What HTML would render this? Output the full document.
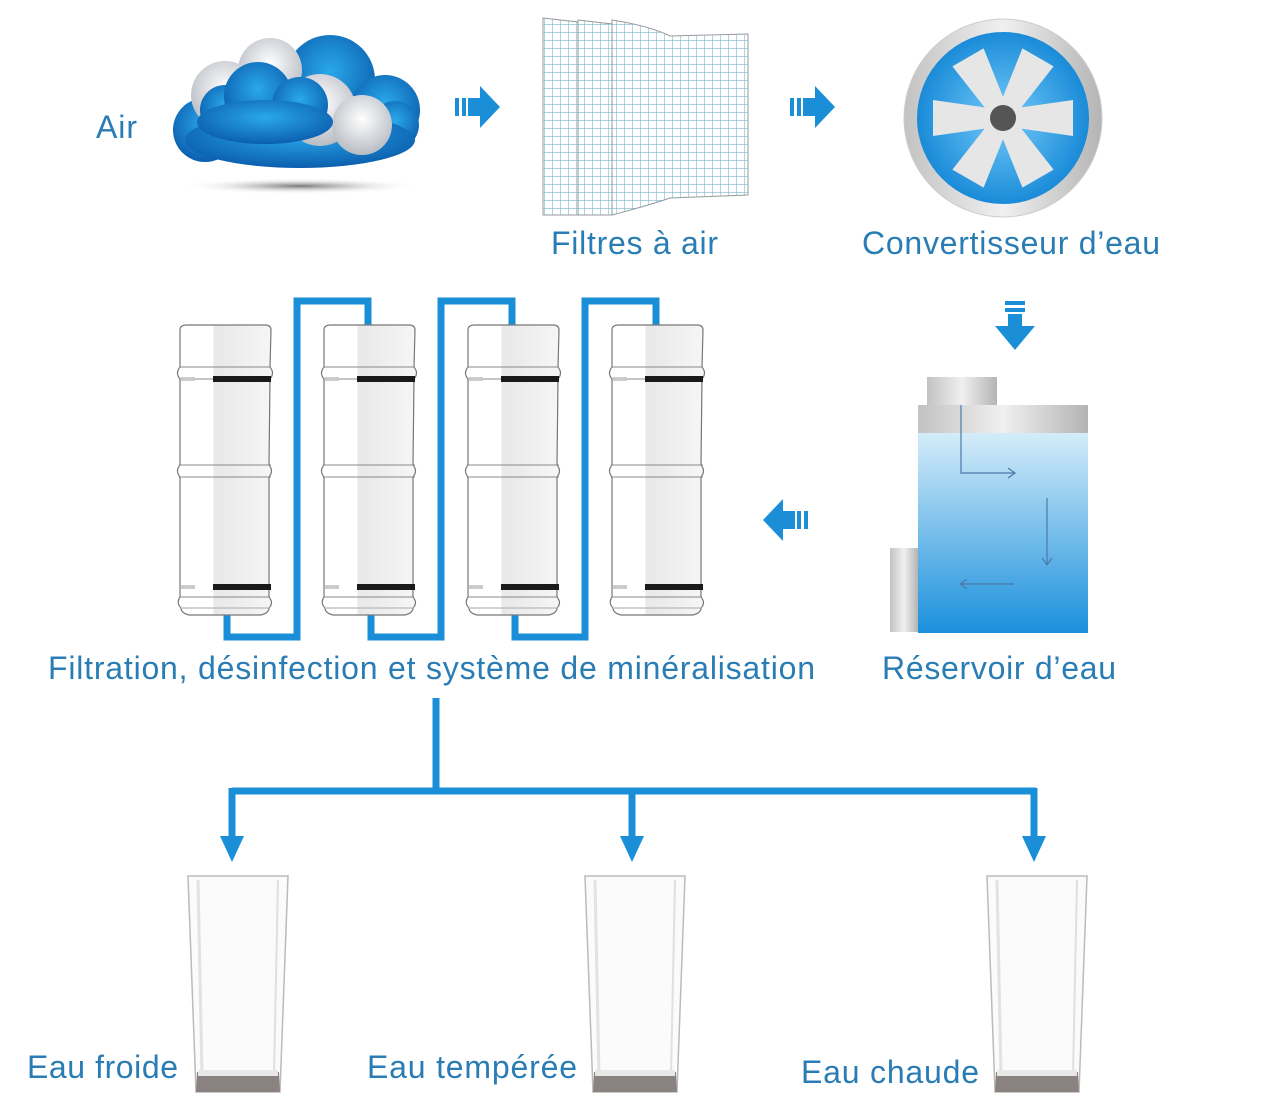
<!DOCTYPE html>
<html><head><meta charset="utf-8"><style>
html,body{margin:0;padding:0;background:#fff;}
svg{display:block}
text{font-family:"Liberation Sans",sans-serif;fill:#2a7db4;font-size:32px}
</style></head><body>
<svg width="1286" height="1112" viewBox="0 0 1286 1112" xmlns="http://www.w3.org/2000/svg">
<defs>
<pattern id="grid" width="8" height="8" patternUnits="userSpaceOnUse">
<path d="M0 0H8M0 0V8" stroke="#7ab6cc" stroke-width="1.2" fill="none"/>
</pattern>
<radialGradient id="cb" cx="50%" cy="40%" r="60%"><stop offset="0" stop-color="#2aa8ea"/><stop offset="1" stop-color="#0b5fae"/></radialGradient>
<radialGradient id="cw" cx="50%" cy="40%" r="60%"><stop offset="0" stop-color="#ffffff"/><stop offset="1" stop-color="#b8bcc4"/></radialGradient>
<radialGradient id="sh" cx="50%" cy="50%" r="50%"><stop offset="0" stop-color="#777"/><stop offset="1" stop-color="#fff" stop-opacity="0"/></radialGradient>
<linearGradient id="water" x1="0" y1="0" x2="0" y2="1"><stop offset="0" stop-color="#d4ecf9"/><stop offset="1" stop-color="#1a90dc"/></linearGradient>
<linearGradient id="metal" x1="0" y1="0" x2="1" y2="0"><stop offset="0" stop-color="#c2c2c2"/><stop offset="0.5" stop-color="#f0f0f0"/><stop offset="1" stop-color="#b4b4b4"/></linearGradient>
<radialGradient id="fanbg" cx="50%" cy="50%" r="50%"><stop offset="0.3" stop-color="#5ab8f0"/><stop offset="1" stop-color="#1a8bd8"/></radialGradient>
<linearGradient id="cart" x1="0" y1="0" x2="1" y2="0"><stop offset="0" stop-color="#fff"/><stop offset="0.38" stop-color="#fff"/><stop offset="0.38" stop-color="#e8e8e8"/><stop offset="1" stop-color="#f6f6f6"/></linearGradient>
<g id="arrR"><rect x="0" y="-9" width="4" height="18" fill="#1a8fd8"/><rect x="7" y="-9" width="4" height="18" fill="#1a8fd8"/><rect x="13" y="-9" width="12" height="18" fill="#1a8fd8"/><polygon points="25,-21 45,0 25,21" fill="#1a8fd8"/></g>
<g id="cartridge">
<path d="M3 5 Q3 0 10 0 H88 Q94 0 94 5 L93 42 Q98 48 93 54 L92 140 Q97 146 92 152 L92 272 Q97 278 92 283 Q92 288 84 290 H12 Q4 288 4 283 Q-1 278 3 272 L3 152 Q-2 146 3 140 L3 54 Q-2 48 3 42 Z" fill="url(#cart)" stroke="#777" stroke-width="1.2"/>
<line x1="3" y1="42" x2="93" y2="42" stroke="#888"/><line x1="3" y1="54" x2="93" y2="54" stroke="#888"/>
<line x1="2" y1="140" x2="94" y2="140" stroke="#888"/><line x1="2" y1="152" x2="94" y2="152" stroke="#888"/>
<line x1="3" y1="272" x2="93" y2="272" stroke="#888"/><line x1="3" y1="283" x2="93" y2="283" stroke="#aaa"/>
<rect x="36" y="51" width="58" height="6" fill="#1a1a1a"/><rect x="36" y="259" width="58" height="6" fill="#1a1a1a"/>
<rect x="4" y="52" width="14" height="4" fill="#ccc"/><rect x="4" y="260" width="14" height="4" fill="#ccc"/>
</g>
<g id="glass">
<path d="M0 0 H100 L92 216 H8 Z" fill="#fbfbfb" stroke="#bbb" stroke-width="1.5"/>
<line x1="10" y1="4" x2="14" y2="200" stroke="#e2e2e2" stroke-width="3"/>
<line x1="90" y1="4" x2="86" y2="200" stroke="#e0e0e0" stroke-width="2"/>
<path d="M9 196 H91 L92 216 H8 Z" fill="#8a8280"/>
<path d="M10 194 H90 L90 200 H10 Z" fill="#e8e8e8"/>
</g>
</defs>

<!-- Cloud -->
<ellipse cx="300" cy="186" rx="120" ry="8" fill="url(#sh)"/>
<g>
<circle cx="205" cy="130" r="32" fill="url(#cb)"/>
<circle cx="330" cy="80" r="45" fill="url(#cb)"/>
<circle cx="385" cy="110" r="35" fill="url(#cb)"/>
<circle cx="395" cy="125" r="24" fill="url(#cb)"/>
<ellipse cx="300" cy="140" rx="115" ry="28" fill="url(#cb)"/>
<circle cx="270" cy="70" r="32" fill="url(#cw)"/>
<circle cx="225" cy="95" r="34" fill="url(#cw)"/>
<circle cx="320" cy="110" r="36" fill="url(#cw)"/>
<circle cx="362" cy="125" r="30" fill="url(#cw)"/>
<circle cx="225" cy="110" r="25" fill="url(#cb)"/>
<circle cx="258" cy="96" r="34" fill="url(#cb)"/>
<circle cx="300" cy="105" r="28" fill="url(#cb)"/>
<ellipse cx="265" cy="122" rx="68" ry="22" fill="url(#cb)"/>
</g>
<text x="96" y="138" textLength="41">Air</text>
<use href="#arrR" x="455" y="107"/>

<!-- Filters -->
<path d="M543 18 L578 22 L578 215 L543 215 Z" fill="#fff" stroke="#999"/>
<path d="M543 18 L578 22 L578 215 L543 215 Z" fill="url(#grid)"/>
<path d="M578 20 L612 24 L612 215 L578 215 Z" fill="#fff" stroke="#999"/>
<path d="M578 20 L612 24 L612 215 L578 215 Z" fill="url(#grid)"/>
<path d="M612 20 Q650 26 670 36 L748 34 L748 195 L670 198 Q650 205 612 215 Z" fill="#fff" stroke="#999"/>
<path d="M612 20 Q650 26 670 36 L748 34 L748 195 L670 198 Q650 205 612 215 Z" fill="url(#grid)"/>
<text x="551" y="254" textLength="167">Filtres à air</text>
<use href="#arrR" x="790" y="107"/>

<!-- Fan -->
<circle cx="1003" cy="118" r="99" fill="url(#metal)" stroke="#ccc"/>
<circle cx="1003" cy="118" r="86" fill="url(#fanbg)"/>
<g fill="#e6e6e6">
<polygon points="1003,110 933,100 933,136 1003,126"/>
<polygon points="1003,110 1073,100 1073,136 1003,126"/>
<polygon points="1003,110 1073,100 1073,136 1003,126" transform="rotate(60 1003 118)"/>
<polygon points="1003,110 1073,100 1073,136 1003,126" transform="rotate(120 1003 118)"/>
<polygon points="1003,110 1073,100 1073,136 1003,126" transform="rotate(-60 1003 118)"/>
<polygon points="1003,110 1073,100 1073,136 1003,126" transform="rotate(-120 1003 118)"/>
</g>
<circle cx="1003" cy="118" r="13" fill="#555"/>
<text x="862" y="254" textLength="298">Convertisseur d’eau</text>

<!-- down arrow -->
<rect x="1005" y="301" width="20" height="4" fill="#1a8fd8"/>
<rect x="1005" y="308" width="20" height="4" fill="#1a8fd8"/>
<rect x="1008" y="314" width="14" height="12" fill="#1a8fd8"/>
<polygon points="995,326 1035,326 1015,350" fill="#1a8fd8"/>

<!-- Reservoir -->
<rect x="927" y="377" width="70" height="28" fill="url(#metal)"/>
<rect x="918" y="405" width="170" height="28" fill="url(#metal)"/>
<rect x="918" y="433" width="170" height="200" fill="url(#water)"/>
<rect x="890" y="548" width="28" height="84" fill="url(#metal)"/>
<g stroke="#4a7aa8" stroke-width="1.2" fill="none">
<path d="M961 405 V473 H1015 M1008 468 L1015 473 L1008 478"/>
<path d="M1047 498 V565 M1042 558 L1047 565 L1052 558"/>
<path d="M1014 584 H960 M967 579 L960 584 L967 589"/>
</g>
<text x="882" y="679" textLength="234">Réservoir d’eau</text>

<!-- left arrow -->
<use href="#arrR" transform="translate(808 520) scale(-1 1)"/>

<!-- pipes -->
<g stroke="#1a8fd8" stroke-width="7" fill="none">
<path d="M227 612 V637 H297 V301 H368 V328"/>
<path d="M371 612 V637 H441 V301 H512 V328"/>
<path d="M515 612 V637 H585 V301 H656 V328"/>
</g>
<use href="#cartridge" x="177" y="325"/>
<use href="#cartridge" x="321" y="325"/>
<use href="#cartridge" x="465" y="325"/>
<use href="#cartridge" x="609" y="325"/>
<text x="48" y="679" textLength="767">Filtration, désinfection et système de minéralisation</text>

<!-- branch -->
<g stroke="#1a8fd8" stroke-width="7" fill="none">
<path d="M436 698 V791"/>
<path d="M232 791 H1036"/>
<path d="M232 788 V840 M632 788 V840 M1034 788 V840"/>
</g>
<g fill="#1a8fd8">
<polygon points="220,836 244,836 232,862"/>
<polygon points="620,836 644,836 632,862"/>
<polygon points="1022,836 1046,836 1034,862"/>
</g>

<use href="#glass" x="188" y="876"/>
<use href="#glass" x="585" y="876"/>
<use href="#glass" x="987" y="876"/>
<text x="27" y="1078" textLength="151">Eau froide</text>
<text x="367" y="1078" textLength="210">Eau tempérée</text>
<text x="801" y="1083" textLength="178">Eau chaude</text>
</svg>
</body></html>
